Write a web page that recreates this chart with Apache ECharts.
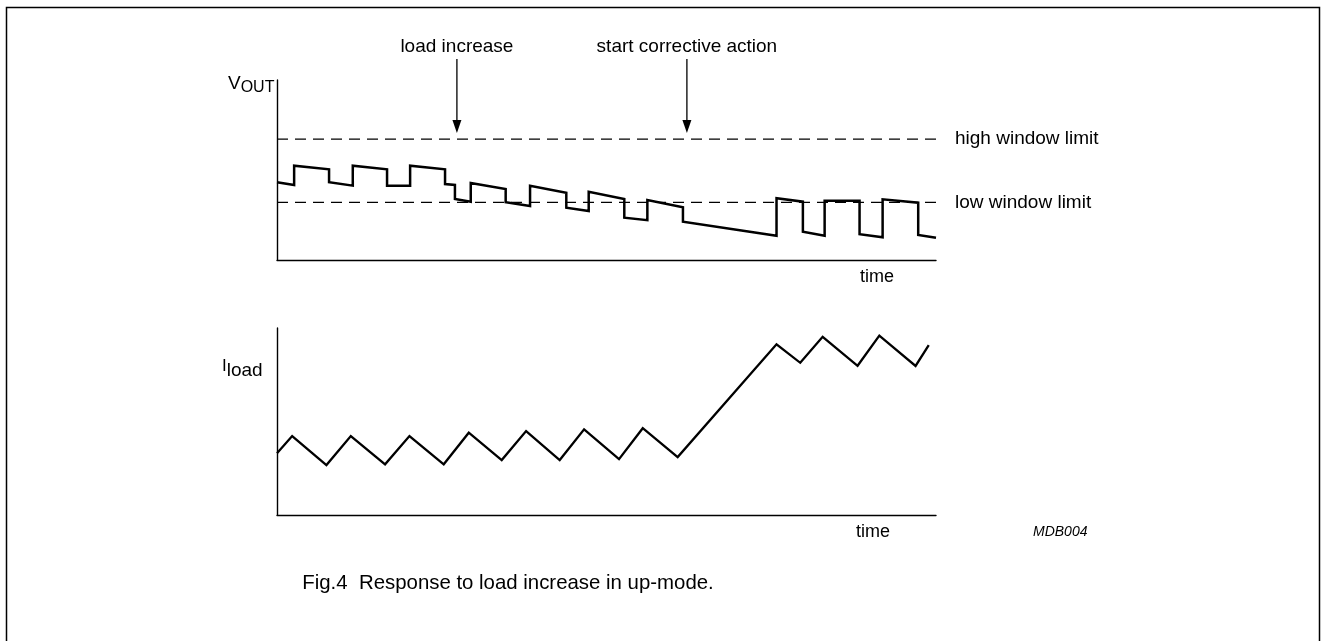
<!DOCTYPE html>
<html>
<head>
<meta charset="utf-8">
<script src="https://cdn.jsdelivr.net/npm/echarts@6/dist/echarts.min.js"></script>
<style>
html,body{margin:0;padding:0;background:#fff;}
#c{width:1327px;height:641px;}
</style>
</head>
<body>
<div id="c"></div>
<script>
// time axis: 0..100 (arbitrary units); voltage / current: 0..100 (arbitrary units)
const vOutTime = [0,2.6,2.6,7.9,7.9,11.5,11.5,16.7,16.7,20.2,20.2,25.5,25.5,27.0,27.0,29.4,29.4,34.7,34.7,38.4,38.4,43.9,43.9,47.3,47.3,52.7,52.7,56.2,56.2,61.6,61.6,75.8,75.8,79.8,79.8,83.1,83.1,88.4,88.4,91.9,91.9,97.3,97.3,100];
const vOutValue = [43.2,41.7,52.4,50.4,43.2,41.3,52.4,50.4,41.3,41.3,52.4,50.4,42.2,41.7,33.9,32.4,42.8,39.4,32.1,30.0,41.3,37.4,29.1,27.2,37.9,33.9,23.5,22.1,33.3,29.3,21.3,13.5,34.3,32.4,15.7,13.5,32.9,32.9,14.3,12.6,33.7,31.8,13.9,12.4];
const iLoadTime = [0,2.3,7.5,11.2,16.4,20.1,25.3,29.1,34.1,37.8,42.9,46.6,51.9,55.5,60.8,75.8,79.4,82.8,88.1,91.4,96.9,98.9];
const iLoadValue = [33.0,42.2,26.7,42.2,27.1,42.2,27.1,44.0,29.4,44.9,29.4,45.8,29.9,46.4,31.0,91.3,81.4,95.3,79.8,95.9,79.7,90.9];
const highLimit = 67.2;
const lowLimit = 32.0;
const limitNames = ['high window limit', 'low window limit'];
const eventTimes = [27.3, 62.2];
const eventNames = ['load increase', 'start corrective action'];
const caption = 'Fig.4  Response to load increase in up-mode.';

const FONT = "'Liberation Sans', Arial, sans-serif";
const chart = echarts.init(document.getElementById('c'), null, {renderer: 'canvas'});

const axisLine = {show: true, onZero: false, lineStyle: {color: '#000', width: 1.4}};
function xAx(g) { return {type: 'value', gridIndex: g, min: 0, max: 100, axisLine: axisLine, axisTick: {show: false}, axisLabel: {show: false}, splitLine: {show: false}}; }
function yAx(g) { return {type: 'value', gridIndex: g, min: 0, max: 100, axisLine: axisLine, axisTick: {show: false}, axisLabel: {show: false}, splitLine: {show: false}}; }
function zip(a, b) { return a.map((v, i) => [v, b[i]]); }
function limitSeries(val, name) {
  return {
    type: 'line', xAxisIndex: 0, yAxisIndex: 0, symbol: 'none', silent: true,
    data: [[0, val], [100, val]],
    lineStyle: {color: '#000', width: 1.3, type: [11, 7]},
    endLabel: {show: true, formatter: name, distance: 19, color: '#000', fontSize: 19, fontFamily: FONT}
  };
}

chart.setOption({
  animation: false,
  backgroundColor: '#fff',
  grid: [
    {left: 277, top: 80, width: 659, height: 180},
    {left: 277, top: 328, width: 659, height: 187}
  ],
  xAxis: [xAx(0), xAx(1)],
  yAxis: [yAx(0), yAx(1)],
  series: [
    limitSeries(highLimit, limitNames[0]),
    limitSeries(lowLimit, limitNames[1]),
    {type: 'line', xAxisIndex: 0, yAxisIndex: 0, symbol: 'none', data: zip(vOutTime, vOutValue),
     lineStyle: {color: '#000', width: 2.5, join: 'miter'}},
    {type: 'line', xAxisIndex: 1, yAxisIndex: 1, symbol: 'none', data: zip(iLoadTime, iLoadValue),
     lineStyle: {color: '#000', width: 2.3, join: 'miter'}}
  ]
});

const g = [];
// frame
g.push({type: 'rect', shape: {x: 6.5, y: 7.5, width: 1313, height: 640}, style: {fill: 'none', stroke: '#000', lineWidth: 1.5}});
// event arrows
const tipY = chart.convertToPixel({gridIndex: 0}, [0, highLimit])[1] - 6;
eventTimes.forEach((t, i) => {
  const x = chart.convertToPixel({gridIndex: 0}, [t, 0])[0];
  g.push({type: 'text', style: {text: eventNames[i], x: x, y: 47, align: 'center', verticalAlign: 'middle', fill: '#000', font: '19px ' + FONT}});
  g.push({type: 'line', shape: {x1: x, y1: 59, x2: x, y2: tipY - 10}, style: {stroke: '#000', lineWidth: 1.3}});
  g.push({type: 'polygon', shape: {points: [[x - 4.5, tipY - 13], [x + 4.5, tipY - 13], [x, tipY]]}, style: {fill: '#000'}});
});
// axis titles
g.push({type: 'text', style: {text: '{a|V}{b|OUT}', x: 228, y: 96, verticalAlign: 'bottom', rich: {a: {fontSize: 19, fontFamily: FONT, fill: '#000'}, b: {fontSize: 16, fontFamily: FONT, fill: '#000', padding: [8, 0, 0, 0]}}}});
g.push({type: 'text', style: {text: '{a|I}{b|load}', x: 222, y: 380, verticalAlign: 'bottom', rich: {a: {fontSize: 17, fontFamily: FONT, fill: '#000'}, b: {fontSize: 19, fontFamily: FONT, fill: '#000', padding: [8, 0, 0, 0]}}}});
g.push({type: 'text', style: {text: 'time', x: 860, y: 277, verticalAlign: 'middle', fill: '#000', font: '18px ' + FONT}});
g.push({type: 'text', style: {text: 'time', x: 856, y: 532, verticalAlign: 'middle', fill: '#000', font: '18px ' + FONT}});
g.push({type: 'text', style: {text: 'MDB004', x: 1033, y: 532, verticalAlign: 'middle', fill: '#000', font: 'italic 14px ' + FONT}});
g.push({type: 'text', style: {text: caption, x: 508, y: 583, align: 'center', verticalAlign: 'middle', fill: '#000', font: '20.4px ' + FONT}});
chart.setOption({graphic: g});
</script>
</body>
</html>
